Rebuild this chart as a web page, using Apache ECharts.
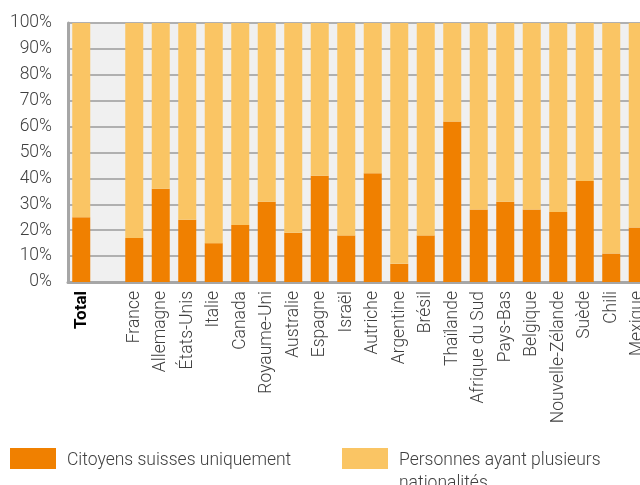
<!DOCTYPE html>
<html>
<head>
<meta charset="utf-8">
<script src="https://cdn.jsdelivr.net/npm/echarts@6/dist/echarts.min.js"></script>
<style>
  html, body { margin: 0; padding: 0; background: #fff; }
  #chart { width: 640px; height: 485px; }
</style>
</head>
<body>
<div id="chart"></div>
<script>
const categories = ['Total', '', 'France', 'Allemagne', 'États-Unis', 'Italie', 'Canada', 'Royaume-Uni',
  'Australie', 'Espagne', 'Israël', 'Autriche', 'Argentine', 'Brésil', 'Thaïlande', 'Afrique du Sud',
  'Pays-Bas', 'Belgique', 'Nouvelle-Zélande', 'Suède', 'Chili', 'Mexique']
// part en %
const suissesSeuls = [25, null, 17, 36, 24, 15, 22, 31, 19, 41, 18, 42, 7, 18, 62, 28, 31, 28, 27, 39, 11, 21]
const plusieursNat = [75, null, 83, 64, 76, 85, 78, 69, 81, 59, 82, 58, 93, 82, 38, 72, 69, 72, 73, 61, 89, 79]
const seriesNames = ['Citoyens suisses uniquement', 'Personnes ayant plusieurs nationalités']
const yTicks = [0, 100, 10]

const chart = echarts.init(document.getElementById('chart'))
const font = 'Roboto, sans-serif'
const grey = '#a6a6a6'
const txt = '#404040'
const colors = ['#f08000', '#fac564']

chart.setOption({
  animation: false,
  textStyle: { fontFamily: font },
  grid: {
    left: 68, top: 23, height: 259, width: 583,
    outerBoundsMode: 'none', containLabel: false,
    show: true, backgroundColor: '#f0f0f0', borderWidth: 0
  },
  // légende dessinée à la main (texte sur deux lignes)
  graphic: [
    { type: 'rect', left: 10, top: 448, shape: { width: 46, height: 21 }, style: { fill: colors[0] } },
    { type: 'text', left: 67, top: 449,
      style: { text: seriesNames[0], fontSize: 17.5, fontWeight: 300, fontFamily: font, fill: txt, lineHeight: 23 } },
    { type: 'rect', left: 342, top: 448, shape: { width: 46, height: 21 }, style: { fill: colors[1] } },
    { type: 'text', left: 399, top: 449,
      style: { text: 'Personnes ayant plusieurs\nnationalités', fontSize: 17.5, fontWeight: 300, fontFamily: font, fill: txt, lineHeight: 23 } }
  ],
  xAxis: {
    type: 'category',
    data: categories,
    axisTick: { show: false },
    axisLine: { lineStyle: { color: grey, width: 3 } },
    axisLabel: {
      rotate: 90, interval: 0, margin: 9, fontSize: 17.5, fontWeight: 300, color: txt,
      formatter: v => v === 'Total' ? '{b|Total}' : v,
      rich: { b: { fontWeight: 'bold', color: '#000', fontSize: 17 } }
    }
  },
  yAxis: {
    type: 'value',
    min: yTicks[0], max: yTicks[1], interval: yTicks[2],
    axisLine: { show: true, lineStyle: { color: grey, width: 3 } },
    axisTick: { show: false },
    splitLine: { lineStyle: { color: '#b0b0b0', width: 2 } },
    axisLabel: { formatter: '{value}%', fontSize: 17.5, fontWeight: 300, color: txt, margin: 16 }
  },
  series: [
    {
      name: seriesNames[0],
      type: 'bar', stack: 'total', barCategoryGap: '32%',
      itemStyle: { color: colors[0] },
      data: suissesSeuls
    },
    {
      name: seriesNames[1],
      type: 'bar', stack: 'total', barCategoryGap: '32%',
      itemStyle: { color: colors[1] },
      data: plusieursNat
    }
  ]
})
</script>
</body>
</html>
